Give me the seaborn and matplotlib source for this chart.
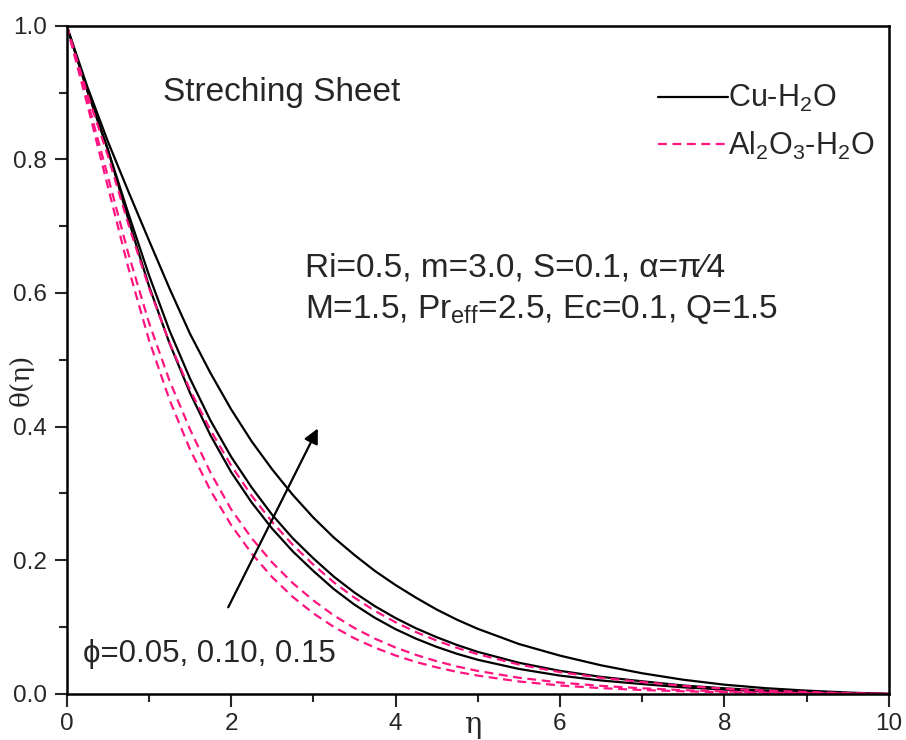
import numpy as np
import pandas as pd
import matplotlib
matplotlib.use('Agg')
import matplotlib.pyplot as plt
from matplotlib.ticker import MultipleLocator, FormatStrFormatter
import seaborn as sns

# values
eta = [0, 0.25, 0.5, 0.75, 1, 1.25, 1.5, 1.75, 2, 2.25, 2.5, 2.75, 3, 3.25, 3.5, 3.75, 4,
       4.25, 4.5, 4.75, 5, 5.5, 6, 6.5, 7, 7.5, 8, 8.5, 9, 9.5, 10]

# Cu-H2O, phi = 0.05, 0.10, 0.15
cu_005 = [1.0, 0.903, 0.815, 0.710, 0.611, 0.525, 0.4505, 0.3868, 0.3321, 0.2866, 0.2473, 0.2134, 0.1841,
          0.1569, 0.1337, 0.1139, 0.097, 0.0827, 0.0705, 0.06, 0.0512, 0.0375, 0.0275, 0.0202, 0.0148,
          0.0099, 0.0066, 0.004, 0.0025, 0.001, 0.0]
cu_010 = [1.0, 0.903, 0.815, 0.719, 0.627, 0.544, 0.472, 0.409, 0.355, 0.309, 0.268, 0.233, 0.203,
          0.1755, 0.1518, 0.1313, 0.1136, 0.0982, 0.085, 0.0732, 0.063, 0.0467, 0.0346, 0.0256, 0.019,
          0.0127, 0.0085, 0.0052, 0.0031, 0.0013, 0.0]
cu_015 = [1.0, 0.909, 0.827, 0.752, 0.679, 0.607, 0.539, 0.48, 0.426, 0.378, 0.336, 0.298, 0.264,
          0.234, 0.208, 0.184, 0.163, 0.144, 0.1264, 0.111, 0.0975, 0.0748, 0.0574, 0.0429, 0.031,
          0.0213, 0.0139, 0.0087, 0.005, 0.0022, 0.0]

# Al2O3-H2O, phi = 0.05, 0.10, 0.15
al_005 = [1.0, 0.8825, 0.7596, 0.6377, 0.530, 0.4405, 0.3661, 0.3043, 0.2529, 0.2102, 0.1747, 0.1452, 0.1207,
          0.1003, 0.0833, 0.0693, 0.0576, 0.0478, 0.0398, 0.033, 0.0275, 0.0187, 0.0127, 0.0087, 0.0059,
          0.004, 0.0027, 0.0016, 0.001, 0.0004, 0.0]
al_010 = [1.0, 0.889, 0.775, 0.659, 0.556, 0.469, 0.396, 0.331, 0.2763, 0.2331, 0.1967, 0.1659, 0.14,
          0.1175, 0.0987, 0.0828, 0.0695, 0.0584, 0.049, 0.0411, 0.0345, 0.0243, 0.0171, 0.0121, 0.0085,
          0.0057, 0.0038, 0.0023, 0.0014, 0.0006, 0.0]
al_015 = [1.0, 0.898, 0.806, 0.703, 0.608, 0.526, 0.455, 0.3945, 0.342, 0.2967, 0.2573, 0.2231, 0.1935,
          0.167, 0.1441, 0.1243, 0.1073, 0.0926, 0.0799, 0.0689, 0.0595, 0.0441, 0.0327, 0.0242, 0.0179,
          0.012, 0.008, 0.0049, 0.003, 0.0012, 0.0]

phis = [0.05, 0.10, 0.15]
cu_label = 'Cu-H$\\mathregular{_2}$O'
al_label = 'Al$\\mathregular{_2}$O$\\mathregular{_3}$-H$\\mathregular{_2}$O'

rows = []
for fluid, curves in [(cu_label, [cu_005, cu_010, cu_015]), (al_label, [al_005, al_010, al_015])]:
    for phi, vals in zip(phis, curves):
        for e, t in zip(eta, vals):
            rows.append({'eta': e, 'theta': t, 'fluid': fluid, 'phi': phi})
df = pd.DataFrame(rows)

sns.set_style('ticks')
plt.rcParams['font.family'] = ['Liberation Sans', 'DejaVu Sans']
plt.rcParams['mathtext.fontset'] = 'custom'
plt.rcParams['mathtext.rm'] = 'Liberation Sans'

fig = plt.figure(figsize=(9.06, 7.40), dpi=100)
ax = fig.add_axes([0.0736, 0.0622, 0.9074, 0.9031])

sns.lineplot(data=df, x='eta', y='theta', hue='fluid', style='fluid', units='phi',
             estimator=None, sort=True, ax=ax, lw=1.6,
             palette={cu_label: 'black', al_label: '#ff1480'},
             dashes={cu_label: '', al_label: (4, 2.5)})

ax.set_xlim(0, 10)
ax.set_ylim(0, 1.0)
ax.xaxis.set_major_locator(MultipleLocator(2))
ax.xaxis.set_minor_locator(MultipleLocator(1))
ax.yaxis.set_major_locator(MultipleLocator(0.2))
ax.yaxis.set_minor_locator(MultipleLocator(0.1))
ax.yaxis.set_major_formatter(FormatStrFormatter('%.1f'))
ax.tick_params(which='major', direction='out', length=9, width=1.5, labelsize=17.5, pad=5)
ax.tick_params(which='minor', direction='out', length=5.5, width=1.5)
for s in ax.spines.values():
    s.set_linewidth(1.8)
    s.set_color('black')

ax.set_xlabel('\u03b7', fontsize=21, family=['DejaVu Serif'])
ax.xaxis.set_label_coords(0.495, -0.025)
ax.set_ylabel('\u03b8(\u03b7)', fontsize=19, family=['DejaVu Serif'])
ax.yaxis.set_label_coords(-0.04, 0.47)

sns.move_legend(ax, 'upper left', bbox_to_anchor=(0.686, 0.955), frameon=False, title=None,
                fontsize=22, handlelength=2.3, handletextpad=0.0, labelspacing=0.5)

ax.text(1.17, 0.887, 'Streching Sheet', fontsize=24, ha='left', va='baseline')
ax.text(2.9, 0.624, 'Ri=0.5, m=3.0, S=0.1, \u03b1=\u03c0\u20444', fontsize=24, ha='left', va='baseline')
ax.text(2.9, 0.562, 'M=1.5, Pr$\\mathregular{_{eff}}$=2.5, Ec=0.1, Q=1.5', fontsize=24, ha='left', va='baseline')
ax.text(0.2, 0.048, '\u03d5=0.05, 0.10, 0.15', fontsize=22.5, ha='left', va='baseline')

ax.annotate('', xy=(3.07, 0.401), xytext=(1.95, 0.126),
            arrowprops=dict(arrowstyle='-|>', color='black', lw=1.6, mutation_scale=22))

fig.savefig('out.png', dpi=100)
